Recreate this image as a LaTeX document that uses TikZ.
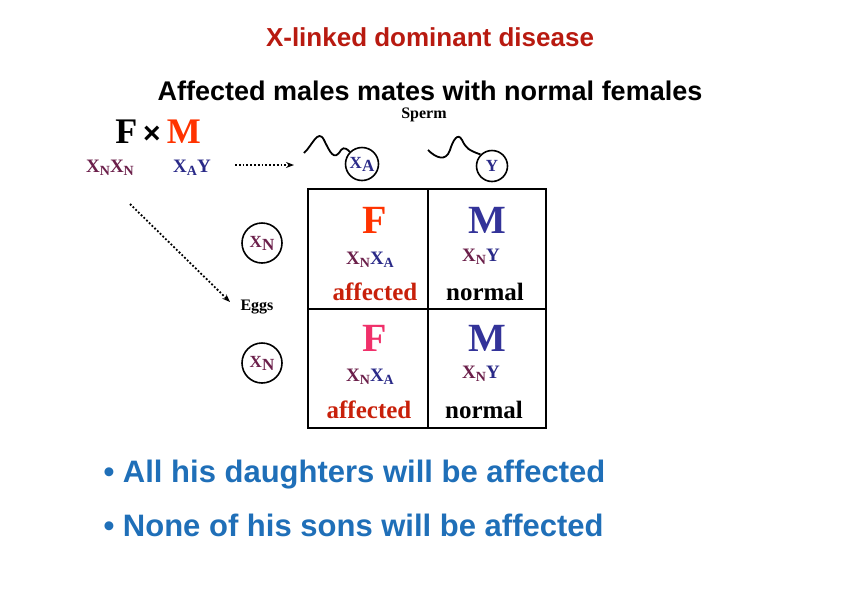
\documentclass[tikz,border=0pt]{standalone}
\usepackage{fontspec}
\setmainfont{Liberation Serif}
\setsansfont{Liberation Sans}
\usetikzlibrary{arrows.meta}
\definecolor{mar}{HTML}{6B1F4A}
\definecolor{nav}{HTML}{2A2A88}
\definecolor{fred}{HTML}{FF3300}
\definecolor{mblue}{HTML}{333399}
\definecolor{aff}{HTML}{C8200A}
\definecolor{bul}{HTML}{1F6FB8}
\definecolor{ttl}{HTML}{B81A10}
\definecolor{pink}{HTML}{F0306A}
\newcommand{\XN}{\textcolor{mar}{X\raisebox{-0.4ex}{\fontsize{14}{14}\selectfont N}}}
\newcommand{\XA}{\textcolor{nav}{X\raisebox{-0.4ex}{\fontsize{14}{14}\selectfont A}}}
\newcommand{\YY}{\textcolor{nav}{Y}}
\begin{document}
\begin{tikzpicture}[x=1pt,y=-1pt,
  gam/.style={circle,draw,line width=1.6pt,font=\bfseries\fontsize{17}{17}\selectfont,inner sep=0pt},
  sex/.style={font=\bfseries\fontsize{40}{40}\selectfont},
  gen/.style={font=\bfseries\fontsize{19}{19}\selectfont},
  stat/.style={font=\bfseries\fontsize{25}{25}\selectfont},
  dot/.style={dotted,line width=1.8pt,-{Stealth[length=8pt]}},
  tail/.style={line width=1.8pt}]
\useasboundingbox (0,0) rectangle (842,595);
\node (t1) at (430,37) {\sffamily\bfseries\fontsize{26}{26}\selectfont\textcolor{ttl}{X-linked dominant disease}};
\node (t2) at (430,91) {\sffamily\bfseries\fontsize{27}{27}\selectfont Affected males mates with normal females};
\node (sp) at (424,115) {\bfseries\fontsize{16}{16}\selectfont Sperm};
\node (fm) at (158,132) {\bfseries\fontsize{36}{36}\selectfont F\,{\sffamily\fontsize{30}{30}\selectfont ×}\,\textcolor{fred}{M}};
\node (pf) at (110,168) [gen] {\XN\XN};
\node (pm) at (192,168) [gen] {\XA\YY};
\coordinate (a1) at (235,165);
\coordinate (a2) at (294,165);
\draw[dot] (a1) -- (a2);
\coordinate (b1) at (130,204);
\coordinate (b2) at (230,302);
\draw[dot] (b1) -- (b2);
\node (eg) at (257,307) {\bfseries\fontsize{16}{16}\selectfont Eggs};
\node (sa) at (362,164) [gam,minimum size=33pt] {\textcolor{nav}{X\raisebox{-0.4ex}{A}}};
\node (sy) at (492,166) [gam,minimum size=31pt] {\textcolor{nav}{Y}};
\draw[tail] (304,153) .. controls (312,146) and (318,128) .. (324,140) .. controls (330,152) and (334,162) .. (341,150) .. controls (344,146) and (348,150) .. (sa.north west);
\draw[tail] (428,150) .. controls (436,158) and (446,162) .. (450,150) .. controls (453,140) and (458,132) .. (462,140) .. controls (466,148) and (468,150) .. (sy.north west);
\node (e1) at (262,243) [gam,minimum size=40pt] {\textcolor{mar}{X\raisebox{-0.4ex}{N}}};
\node (e2) at (262,363) [gam,minimum size=40pt] {\textcolor{mar}{X\raisebox{-0.4ex}{N}}};
\draw[line width=2.6pt] (308,189) rectangle (546,428);
\draw[line width=2.6pt] (428,189) -- (428,428);
\draw[line width=2.6pt] (308,309) -- (546,309);
\node (c1s) at (375,220) [sex,text=fred] {F};
\node (c1g) at (370,260) [gen] {\XN\XA};
\node (c1t) at (375,292) [stat,text=aff] {affected};
\node (c2s) at (487,220) [sex,text=mblue] {M};
\node (c2g) at (481,257) [gen] {\XN\YY};
\node (c2t) at (485,292) [stat] {normal};
\node (c3s) at (375,338) [sex,text=pink] {F};
\node (c3g) at (370,377) [gen] {\XN\XA};
\node (c3t) at (369,410) [stat,text=aff] {affected};
\node (c4s) at (487,338) [sex,text=mblue] {M};
\node (c4g) at (481,374) [gen] {\XN\YY};
\node (c4t) at (484,410) [stat] {normal};
\node[anchor=west] (l1) at (100,475) {\sffamily\bfseries\fontsize{31}{31}\selectfont\textcolor{bul}{\textbullet\ All his daughters will be affected}};
\node[anchor=west] (l2) at (100,525) {\sffamily\bfseries\fontsize{31}{31}\selectfont\textcolor{bul}{\textbullet\ None of his sons will be affected}};
\end{tikzpicture}
\end{document}
